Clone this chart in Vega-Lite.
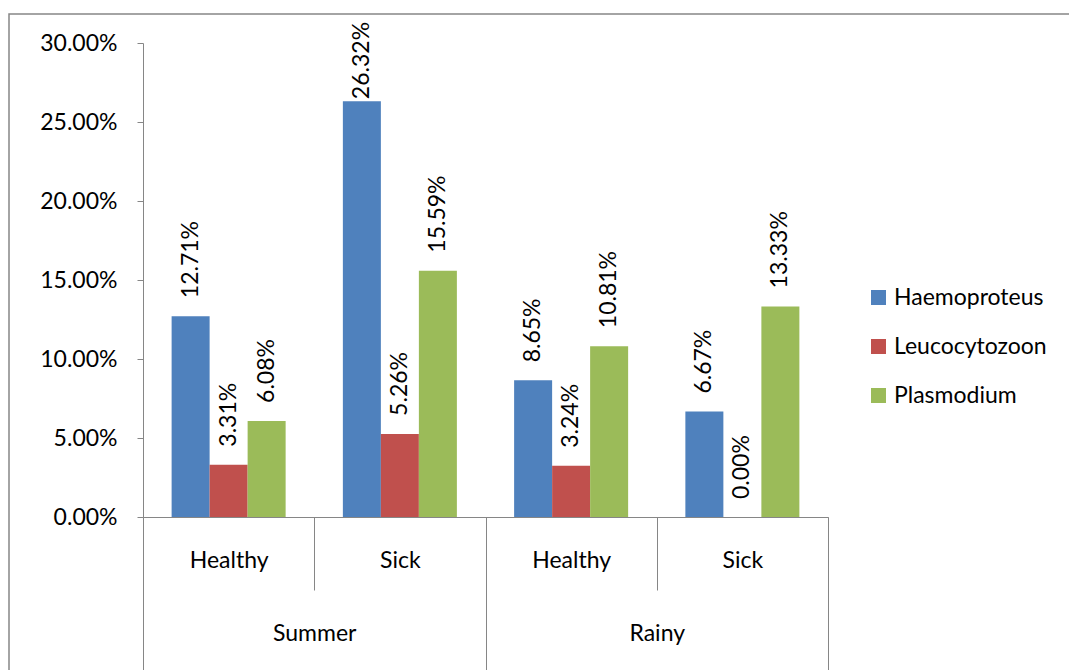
{
  "$schema": "https://vega.github.io/schema/vega-lite/v6.json",
  "width": 1060,
  "height": 656,
  "autosize": {"type": "none"},
  "padding": {"left": 9, "top": 14, "right": 0, "bottom": 0},
  "background": "white",
  "config": {
    "font": "Lato",
    "view": {"stroke": "#868686", "strokeWidth": 1.5, "strokeDash": [1060, 1716]},
    "axis": {"domainColor": "#868686", "tickColor": "#868686", "labelColor": "#000000", "labelFont": "Lato", "labelFontSize": 23, "grid": false, "title": null}
  },
  "data": {
    "values": [
      {"slot": "Summer Healthy", "season": "Summer", "series": "Haemoproteus", "value": 0.1271},
      {"slot": "Summer Healthy", "season": "Summer", "series": "Leucocytozoon", "value": 0.0331},
      {"slot": "Summer Healthy", "season": "Summer", "series": "Plasmodium", "value": 0.0608},
      {"slot": "Summer Sick", "season": "Summer", "series": "Haemoproteus", "value": 0.2632},
      {"slot": "Summer Sick", "season": "Summer", "series": "Leucocytozoon", "value": 0.0526},
      {"slot": "Summer Sick", "season": "Summer", "series": "Plasmodium", "value": 0.1559},
      {"slot": "Rainy Healthy", "season": "Rainy", "series": "Haemoproteus", "value": 0.0865},
      {"slot": "Rainy Healthy", "season": "Rainy", "series": "Leucocytozoon", "value": 0.0324},
      {"slot": "Rainy Healthy", "season": "Rainy", "series": "Plasmodium", "value": 0.1081},
      {"slot": "Rainy Sick", "season": "Rainy", "series": "Haemoproteus", "value": 0.0667},
      {"slot": "Rainy Sick", "season": "Rainy", "series": "Leucocytozoon", "value": 0.0},
      {"slot": "Rainy Sick", "season": "Rainy", "series": "Plasmodium", "value": 0.1333}
    ]
  },
  "layer": [
    {
      "encoding": {
        "x": {
          "field": "slot", "type": "nominal", "sort": null,
          "scale": {"range": [134, 819], "paddingInner": 0, "paddingOuter": 0},
          "axis": {
            "orient": "bottom", "offset": -153, "labelAngle": 0,
            "labelExpr": "split(datum.label, ' ')[1]",
            "tickBand": "extent", "tickSize": 73,
            "labelBaseline": "middle", "labelPadding": -30
          }
        },
        "xOffset": {
          "field": "series", "type": "nominal",
          "scale": {"paddingInner": 0, "paddingOuter": 0.753}
        },
        "y": {
          "field": "value", "type": "quantitative",
          "scale": {"domain": [0, 0.3], "range": [503, 29], "nice": false},
          "axis": {
            "offset": -134, "format": ".2%", "values": [0, 0.05, 0.1, 0.15, 0.2, 0.25, 0.3],
            "tickSize": 6, "labelPadding": 20
          }
        }
      },
      "layer": [
        {
          "mark": {"type": "bar"},
          "encoding": {
            "color": {
              "field": "series", "type": "nominal",
              "scale": {"domain": ["Haemoproteus", "Leucocytozoon", "Plasmodium"], "range": ["#4F81BD", "#C0504D", "#9BBB59"]},
              "legend": {
                "title": null, "orient": "none", "legendX": 858, "legendY": 272,
                "symbolType": "square", "symbolSize": 225, "symbolStrokeWidth": 0,
                "labelFontSize": 23, "labelColor": "#000000", "labelOffset": 4,
                "rowPadding": 25, "padding": 0
              }
            }
          }
        },
        {
          "transform": [{"filter": "datum.value < 0.25"}],
          "mark": {"type": "text", "angle": 270, "align": "left", "baseline": "middle", "dx": 18, "fontSize": 23, "color": "#000000"},
          "encoding": {
            "text": {"field": "value", "type": "quantitative", "format": ".2%"}
          }
        },
        {
          "transform": [{"filter": "datum.value >= 0.25"}],
          "mark": {"type": "text", "angle": 270, "align": "left", "baseline": "middle", "dx": 2, "fontSize": 23, "color": "#000000"},
          "encoding": {
            "text": {"field": "value", "type": "quantitative", "format": ".2%"}
          }
        }
      ]
    },
    {
      "mark": {"type": "rule", "opacity": 0},
      "encoding": {
        "x": {
          "field": "season", "type": "nominal", "sort": null,
          "scale": {"range": [134, 819], "paddingInner": 0, "paddingOuter": 0},
          "axis": {
            "orient": "bottom", "offset": -153, "labelAngle": 0, "domain": false,
            "tickBand": "extent", "tickSize": 165,
            "labelBaseline": "middle", "labelPadding": -49
          }
        }
      }
    }
  ],
  "resolve": {"scale": {"x": "independent"}, "axis": {"x": "independent"}}
}
